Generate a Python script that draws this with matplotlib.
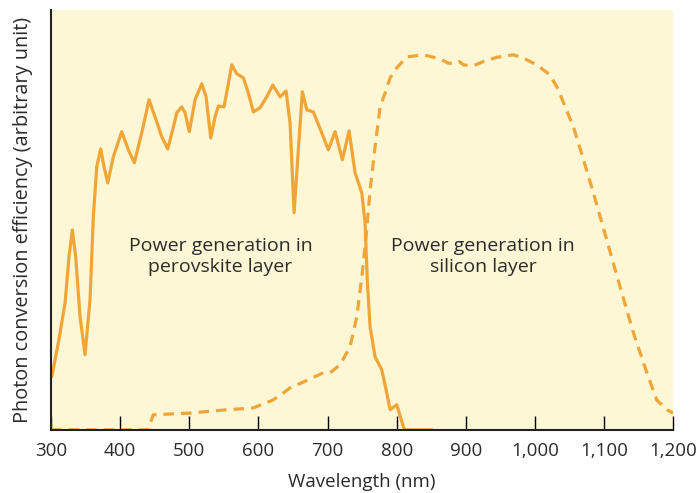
import matplotlib.pyplot as plt

plt.rcParams['font.family'] = ['Open Sans', 'DejaVu Sans']

# perovskite layer (solid)
pero_nm = [301, 310.6, 320.3, 326, 330.8, 335.7, 342, 349.2, 356.4, 361.2, 366.1, 371.9,
           376.7, 382, 390.1, 402.3, 411.8, 420.5, 431.2, 441.8, 450.5, 460.2, 468.9, 477,
           481.9, 489.1, 493.9, 500.1, 508.4, 518.1, 524.3, 531.1, 537.3, 542.1, 550.3,
           561.5, 568.7, 578.3, 585.5, 592.7, 602.4, 612.1, 620.8, 631.4, 640, 645.8,
           651.6, 657.8, 663.6, 670, 679.5, 691.7, 701.2, 710.9, 721.5, 731.2, 739.9,
           749.6, 754.3, 757.7, 761.6, 768.8, 778.5, 785.7, 790.5, 800.2, 809.8, 812, 851]
pero_val = [12.7, 20.7, 30.2, 41.2, 47.6, 41.2, 26.9, 17.9, 31, 50.7, 62.6, 66.9,
            62.6, 58.8, 65, 71, 66.7, 63.6, 70.7, 78.6, 74.5, 69.8, 66.9, 72.1,
            75.5, 76.9, 75.5, 71, 78.6, 82.4, 79.3, 69.5, 74.5, 77.1, 76.9,
            86.9, 84.8, 83.8, 80.2, 75.7, 76.7, 79.3, 82.1, 79.3, 80.7, 73.1,
            51.7, 66.7, 80.5, 76.2, 75.7, 70.7, 66.7, 71, 64.3, 71.2, 61.2,
            56.4, 49.3, 35, 24.5, 17.4, 14.3, 8.8, 4.8, 6, 0.7, 0, 0]

# silicon layer (dashed)
si_nm = [300, 440, 448, 501, 554, 592, 621, 636, 645.8, 665.1, 694, 703.7, 718.2,
         732.6, 742.3, 749.6, 755.8, 761.6, 768.8, 776.1, 783.3, 790.5, 800.2, 814.6,
         838.7, 862.9, 874.9, 887, 890.8, 896.6, 911.1, 925.5, 944.9, 968.9, 983.4,
         1002.8, 1022, 1034, 1041.3, 1055.8, 1070.3, 1084.7, 1104, 1123.3, 1142.6,
         1162, 1176.4, 1191, 1200]
si_val = [0, 0, 3.6, 4, 4.8, 5.2, 7.1, 8.8, 10, 11.4, 13.6, 13.6, 15.5,
          19.8, 26.9, 36.4, 46, 57.1, 67.4, 76.9, 80.2, 83.8, 86.2, 88.8,
          89.3, 88.3, 87.3, 87.3, 87.7, 86.9, 86.7, 87.7, 88.7, 89.3, 88.5,
          86.9, 84.5, 81, 77.9, 72.1, 64.3, 56.4, 45.2, 34, 23.1,
          13.6, 7.1, 4.8, 4]

xticks = [300, 400, 500, 600, 700, 800, 900, 1000, 1100, 1200]
xtick_labels = ['300', '400', '500', '600', '700', '800', '900', '1,000', '1,100', '1,200']

orange = '#F0A536'
text_col = '#2b2b2b'

fig = plt.figure(figsize=(6.99, 4.93), dpi=100)
ax = fig.add_axes([0.073, 0.128, 0.89, 0.852])
ax.set_facecolor('#FDF7D5')

ax.plot(pero_nm, pero_val, color=orange, lw=2.3, solid_joinstyle='round', solid_capstyle='round')
ax.plot(si_nm, si_val, color=orange, lw=2.3, linestyle=(0, (3.3, 2.2)), dash_joinstyle='round')

ax.text(545, 41.2, 'Power generation in\nperovskite layer', ha='center', va='center',
        fontsize=14, color=text_col, linespacing=1.2)
ax.text(925, 41.2, 'Power generation in\nsilicon layer', ha='center', va='center',
        fontsize=14, color=text_col, linespacing=1.2)

ax.set_xlim(300, 1200)
ax.set_ylim(0, 100)
ax.set_xticks(xticks)
ax.set_xticklabels(xtick_labels)
ax.set_yticks([])
ax.tick_params(axis='x', direction='in', length=10, width=1, pad=9,
               labelsize=13.5, labelcolor=text_col)

for s in ['top', 'right']:
    ax.spines[s].set_visible(False)
for s in ['left', 'bottom']:
    ax.spines[s].set_linewidth(1.5)
    ax.spines[s].set_color('#222222')

ax.set_xlabel('Wavelength (nm)', fontsize=13.5, color=text_col, labelpad=9)
ax.set_ylabel('Photon conversion efficiency (arbitrary unit)', fontsize=14.3, color=text_col, labelpad=13)

fig.savefig('out.png', dpi=100)
